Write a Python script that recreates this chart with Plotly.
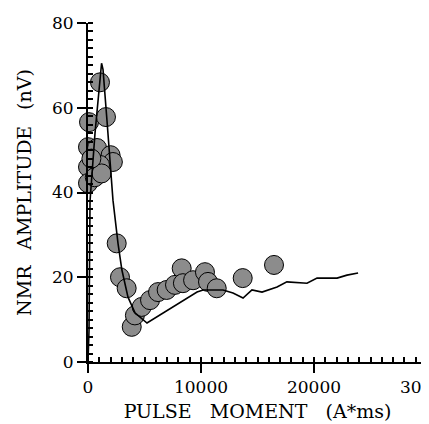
import plotly.graph_objects as go

# Measured NMR amplitudes (scatter markers)
pts_x = [1060, 90, 1590, 0, 800, 2000, 2200, 0, 1060, 0, 600, 1200, 300,
         2540, 2830, 3420, 3870, 4150, 4750, 5490, 6200, 6960, 7700, 8290,
         8400, 9300, 10350, 10620, 11390, 13690, 16460]
pts_y = [66, 56.6, 57.8, 50.7, 50.5, 48.8, 47.2, 46, 46.5, 42.2, 43.6, 44.5, 48,
         28, 20, 17.4, 8.3, 11, 13, 14.6, 16.5, 17, 18.2, 22.1,
         18.6, 19.3, 21.2, 18.9, 17.4, 19.8, 22.9]

# Modelled curve
curve_x = [0, 90, 180, 620, 1200, 1330, 1680, 1950, 2210, 2655, 3000, 3540,
           4160, 5220, 9650, 10180, 11950, 12830, 13720, 14510, 15400, 16730,
           17600, 19380, 20270, 22040, 22920, 23900]
curve_y = [0, 7.5, 38, 54, 70.5, 69, 57, 47.6, 38.2, 28, 21.7, 15.3,
           11.6, 9.2, 16.5, 17, 17, 16.3, 15.1, 17, 16.5, 17.7,
           18.9, 18.6, 19.8, 19.8, 20.5, 21]

x_ticks = [0, 10000, 20000, 30000]
y_ticks = [0, 20, 40, 60, 80]

FONT = "DejaVu Serif"
SP = "\u00a0\u00a0\u00a0"
SPY = "\u00a0\u00a0\u2009"

fig = go.Figure()
fig.add_trace(go.Scatter(
    x=pts_x, y=pts_y, mode="markers", cliponaxis=False,
    marker=dict(symbol="circle", size=19, color="#8c8c8c",
                line=dict(color="black", width=1)),
    showlegend=False))
fig.add_trace(go.Scatter(
    x=curve_x, y=curve_y, mode="lines", cliponaxis=False,
    line=dict(color="black", width=1.6), showlegend=False))

fig.update_layout(
    width=421, height=416,
    margin=dict(l=80, r=2, t=15, b=62, autoexpand=False),
    paper_bgcolor="white", plot_bgcolor="white",
    font=dict(family=FONT, size=17, color="black"),
)
fig.update_xaxes(
    range=[0, 30000], tickvals=x_ticks, ticktext=[str(v) for v in x_ticks],
    automargin=False, ticklabeloverflow="allow",
    showgrid=False, zeroline=False, showline=True, linecolor="black",
    linewidth=2, ticks="outside", ticklen=9, tickwidth=2, tickcolor="black",
    minor=dict(ticks="inside", dtick=1000, ticklen=5, tickwidth=1.5,
               tickcolor="black", showgrid=False),
    tickfont=dict(family=FONT, size=17),
    title=dict(text="PULSE" + SP + "MOMENT" + SP + "(A*ms)",
               font=dict(family=FONT, size=19), standoff=8),
)
fig.update_yaxes(
    range=[0, 80], tickvals=y_ticks, ticktext=[str(v) for v in y_ticks],
    automargin=False,
    showgrid=False, zeroline=False, showline=True, linecolor="black",
    linewidth=2, ticks="outside", ticklen=9, tickwidth=2, tickcolor="black",
    minor=dict(ticks="inside", dtick=2, ticklen=5, tickwidth=1.5,
               tickcolor="black", showgrid=False),
    tickfont=dict(family=FONT, size=17),
    title=dict(text="NMR" + SPY + "AMPLITUDE" + SPY + "(nV)",
               font=dict(family=FONT, size=19), standoff=15),
)

fig.write_html("out.html")
